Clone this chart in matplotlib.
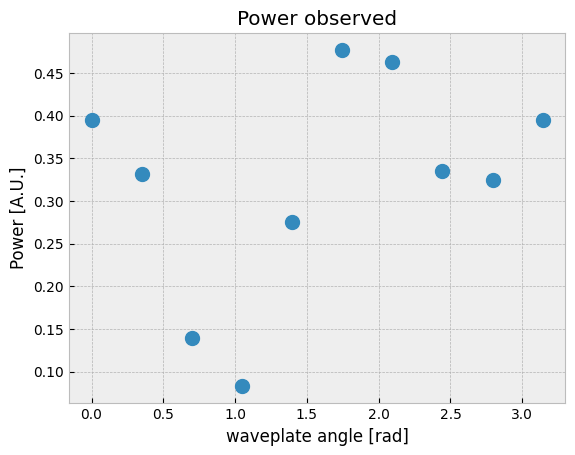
import numpy as np
import matplotlib
matplotlib.use("Agg")
import matplotlib.pyplot as plt

plt.style.use("bmh")

angles = [0.0, 0.349, 0.698, 1.047, 1.396, 1.745, 2.094, 2.443, 2.793, 3.142]
power = [0.395, 0.332, 0.140, 0.083, 0.275, 0.477, 0.463, 0.335, 0.325, 0.395]

fig, ax = plt.subplots(figsize=(5.75, 4.55), dpi=100)
ax.plot(angles, power, "o", markersize=10)
ax.set_title("Power observed")
ax.set_xlabel("waveplate angle [rad]")
ax.set_ylabel("Power [A.U.]")
fig.subplots_adjust(left=0.12, right=0.983, top=0.927, bottom=0.114)
fig.savefig("out.png")
